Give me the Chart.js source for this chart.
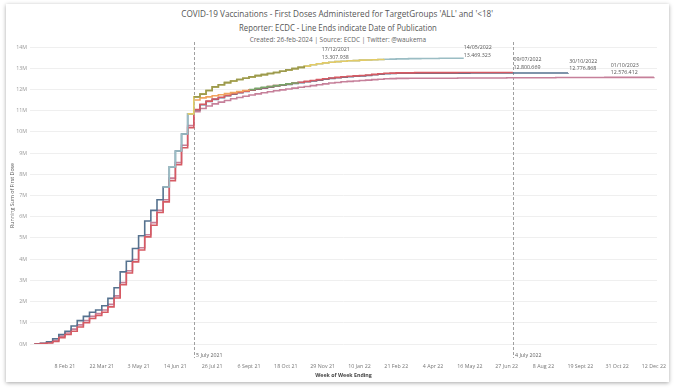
<!doctype html>
<html lang="en">
<head>
<meta charset="utf-8">
<title>COVID-19 Vaccinations - First Doses (ECDC)</title>
<script src="https://cdn.jsdelivr.net/npm/chart.js@4.4.1/dist/chart.umd.min.js"></script>
<style>
  html,body{margin:0;background:#fff}
  body{width:680px;height:392px;position:relative;overflow:hidden;font-family:"Open Sans",sans-serif}
  .card{position:absolute;left:6px;top:4px;width:663px;height:378px;background:#fff;box-shadow:0 1px 4px rgba(0,0,0,.35)}
  .hd{position:absolute;left:0;width:100%;text-align:center;color:#555;white-space:nowrap;line-height:1}
  .hd span{display:inline-block;transform-origin:center}
  .t1{top:5px;font-size:9.5px}
  .t1 span{transform:scaleX(.86)}
  .t2{top:19px;font-size:9px}
  .t2 span{transform:scaleX(.86)}
  .t3{top:32px;font-size:7px;color:#666}
  .t3 span{transform:scaleX(.92)}
  canvas{position:absolute;left:0;top:0}
</style>
</head>
<body>
<div class="card">
  <div class="hd t1"><span>COVID-19 Vaccinations - First Doses Administered for TargetGroups 'ALL' and '&lt;18'</span></div>
  <div class="hd t2"><span>Reporter: ECDC - Line Ends indicate Date of Publication</span></div>
  <div class="hd t3"><span>Created: 26-feb-2024 | Source: ECDC | Twitter: @waukema</span></div>
  <canvas id="c" width="663" height="378"></canvas>
</div>
<script>
// x = week index, week 0 = week of 4 Jan 21; y = running sum of first doses in millions
const TICK_IDX = [5, 11, 17, 23, 29, 35, 41, 47, 53, 59, 65, 71, 77, 83, 89, 95, 101];
const TICK_LABELS = ["8 Feb 21", "22 Mar 21", "3 May 21", "14 Jun 21", "26 Jul 21", "6 Sept 21", "18 Oct 21", "29 Nov 21",
  "10 Jan 22", "21 Feb 22", "4 Apr 22", "16 May 22", "27 Jun 22", "8 Aug 22", "19 Sept 22", "31 Oct 22", "12 Dec 22"];

// weeks 0..25, the leading (earlier published) series
const LEAD_EARLY = [0, 0.03, 0.1, 0.25, 0.45, 0.6, 0.85, 1.1, 1.3, 1.5, 1.6, 1.8, 2.15, 2.65, 3.4, 3.9, 4.5, 5.1, 5.8, 6.3,
  6.8, 7.4, 8.35, 9.1, 9.9, 10.85];
// weeks 0..25, the lagging series
const RED_EARLY = [0, 0.02, 0.05, 0.12, 0.3, 0.45, 0.6, 0.8, 1.0, 1.2, 1.35, 1.5, 1.75, 2.17, 2.8, 3.35, 3.87, 4.43, 5.05, 5.6,
  6.2, 6.7, 7.7, 8.45, 9.25, 10.2];
const PINK_EARLY = [0, 0.02, 0.07, 0.17, 0.37, 0.52, 0.7, 0.9, 1.1, 1.3, 1.44, 1.6, 1.87, 2.27, 2.9, 3.45, 3.98, 4.54, 5.15, 5.72,
  6.3, 6.8, 7.82, 8.55, 9.37, 10.3];

// weeks 26..70
const UPPER_LATE = [11.65, 11.78, 11.95, 12.12, 12.22, 12.32, 12.4, 12.47, 12.53, 12.59, 12.65, 12.7, 12.75, 12.8, 12.86,
  12.92, 12.98, 13.04, 13.1, 13.16, 13.21, 13.25, 13.28, 13.31, 13.33, 13.35, 13.36, 13.38, 13.39, 13.4, 13.41, 13.42,
  13.43, 13.44, 13.44, 13.45, 13.45, 13.46, 13.46, 13.46, 13.47, 13.47, 13.47, 13.47, 13.47];
// weeks 26..78
const RED_LATE = [11.05, 11.3, 11.45, 11.55, 11.63, 11.72, 11.8, 11.86, 11.92, 11.98, 12.03, 12.08, 12.13, 12.18, 12.22,
  12.26, 12.3, 12.34, 12.38, 12.42, 12.46, 12.5, 12.54, 12.57, 12.6, 12.62, 12.64, 12.66, 12.68, 12.71, 12.74, 12.76,
  12.77, 12.78, 12.78, 12.78, 12.79, 12.79, 12.79, 12.79, 12.79, 12.79, 12.79, 12.8, 12.8, 12.8, 12.8, 12.8, 12.8, 12.8,
  12.8, 12.8, 12.8];
// weeks 26..87
const BLUE_LATE = [11.03, 11.28, 11.43, 11.53, 11.61, 11.7, 11.78, 11.84, 11.9, 11.96, 12.01, 12.06, 12.11, 12.16, 12.2,
  12.24, 12.28, 12.32, 12.36, 12.4, 12.44, 12.48, 12.52, 12.55, 12.58, 12.6, 12.62, 12.64, 12.66, 12.69, 12.72, 12.74,
  12.75, 12.76, 12.76, 12.77, 12.77, 12.77, 12.77, 12.77, 12.77, 12.77, 12.77, 12.77, 12.77, 12.775, 12.775, 12.775,
  12.775, 12.775, 12.775, 12.775, 12.775, 12.775, 12.775, 12.775, 12.775, 12.775, 12.775, 12.775, 12.775, 12.777];
// weeks 26..101
const PINK_LATE = [10.95, 11.1, 11.22, 11.32, 11.4, 11.48, 11.56, 11.62, 11.68, 11.74, 11.79, 11.84, 11.89, 11.94, 11.98,
  12.02, 12.06, 12.1, 12.14, 12.18, 12.22, 12.26, 12.3, 12.33, 12.36, 12.38, 12.4, 12.42, 12.44, 12.46, 12.48, 12.5,
  12.51, 12.52, 12.52, 12.53, 12.53, 12.53, 12.53, 12.53, 12.53, 12.53, 12.53, 12.54, 12.54, 12.54, 12.54, 12.54, 12.54,
  12.54, 12.54, 12.55, 12.55, 12.55, 12.55, 12.55, 12.55, 12.55, 12.55, 12.56, 12.56, 12.56, 12.56, 12.56, 12.56, 12.56,
  12.56, 12.57, 12.57, 12.57, 12.57, 12.57, 12.57, 12.57, 12.57, 12.576];
// short segments visible on top of the middle group, weeks 26..35 and 35..43
const ORANGE_LATE = [11.5, 11.6, 11.65, 11.7, 11.75, 11.8, 11.85, 11.9, 11.95, 12.0];
const GREEN_LATE = [12.0, 12.05, 12.1, 12.14, 12.18, 12.22, 12.26, 12.3, 12.34];

const REF_LINES = [{ week: 26, label: "5 July 2021" }, { week: 78, label: "4 July 2022" }];
const END_LABELS = [
  { week: 46.85, val: 13.86, text: ["17/12/2021", "13.307.938"] },
  { week: 70.0, val: 13.96, text: ["14/05/2022", "13.469.323"] },
  { week: 78.1, val: 13.39, text: ["09/07/2022", "12.800.669"] },
  { week: 87.2, val: 13.34, text: ["30/10/2022", "12.776.868"] },
  { week: 93.95, val: 13.15, text: ["01/10/2023", "12.576.412"] },
];

const pts = (start, vals) => vals.map((v, k) => ({ x: start + k, y: v }));
const line = (data, color) => ({ data, borderColor: color, borderWidth: 1.6, stepped: true, pointRadius: 0, fill: false });

// listed top-most first (Chart.js draws dataset 0 last)
const datasets = [
  line(pts(26, UPPER_LATE.slice(0, 19)), "#9c9a4e"),
  line(pts(25, [LEAD_EARLY[25], ...UPPER_LATE.slice(0, 32)]), "#e3cb66"),
  line(pts(21, [...LEAD_EARLY.slice(21), ...UPPER_LATE]), "#9bbdc4"),
  line(pts(26, ORANGE_LATE), "#f0a35e"),
  line(pts(35, GREEN_LATE), "#78a56a"),
  line(pts(0, [...RED_EARLY, ...RED_LATE]), "#d65a63"),
  line(pts(0, [...LEAD_EARLY, ...BLUE_LATE]), "#56728f"),
  line(pts(0, [...PINK_EARLY, ...PINK_LATE]), "#c6809a"),
];

const FONT = '"Open Sans", sans-serif';
const refs = {
  id: "refs",
  beforeDatasetsDraw(c) {
    const { ctx, chartArea: a, scales: { x, y } } = c;
    ctx.save();
    ctx.font = "5.3px " + FONT;
    ctx.textBaseline = "middle";
    ctx.textAlign = "left";
    REF_LINES.forEach(r => {
      const px = Math.round(x.getPixelForValue(r.week)) + 0.5;
      ctx.strokeStyle = "#a0a0a0"; ctx.lineWidth = 1; ctx.setLineDash([3, 2]);
      ctx.beginPath(); ctx.moveTo(px, a.top - 5); ctx.lineTo(px, a.bottom + 14); ctx.stroke();
      ctx.setLineDash([]);
      ctx.fillStyle = "#666";
      ctx.fillText(r.label, px + 1.5, a.bottom + 11);
    });
    ctx.fillStyle = "#555";
    END_LABELS.forEach(l => {
      const px = x.getPixelForValue(l.week), py = y.getPixelForValue(l.val);
      l.text.forEach((t, k) => ctx.fillText(t, px, py + k * 7.5));
    });
    ctx.restore();
  }
};

new Chart(document.getElementById("c"), {
  type: "line",
  data: { datasets },
  plugins: [refs],
  options: {
    responsive: false, animation: false, devicePixelRatio: 1,
    layout: { padding: { left: 0, right: 12, top: 43, bottom: 0 } },
    plugins: { legend: { display: false }, tooltip: { enabled: false } },
    scales: {
      x: {
        type: "linear", min: -0.7, max: 101.5,
        grid: { display: false }, border: { display: false },
        afterBuildTicks: s => { s.ticks = TICK_IDX.map(v => ({ value: v })); },
        // fixed height, and no extra room reserved for the edge labels
        afterFit: s => { s.height = 38; s.paddingLeft = 0; s.paddingRight = 0; },
        ticks: { autoSkip: false, maxRotation: 0, padding: 11, color: "#777", font: { family: FONT, size: 5.3 },
          callback: v => TICK_LABELS[TICK_IDX.indexOf(v)] },
        title: { display: true, text: "Week of Week Ending", color: "#444", font: { family: FONT, size: 5.3, weight: "bold" },
          padding: { top: 0, bottom: 3 } }
      },
      y: {
        min: 0, max: 14,
        grid: { color: "#efefef", drawTicks: false }, border: { display: false },
        afterFit: s => { s.width = 24; s.paddingTop = 0; s.paddingBottom = 0; },
        ticks: { stepSize: 1, padding: 3, color: "#999", font: { family: FONT, size: 5.3 }, callback: v => v + "M" },
        title: { display: true, text: "Running Sum of First Dose", color: "#555", font: { family: FONT, size: 5.3 },
          padding: { top: 3, bottom: 0 } }
      }
    }
  }
});
</script>
</body>
</html>
